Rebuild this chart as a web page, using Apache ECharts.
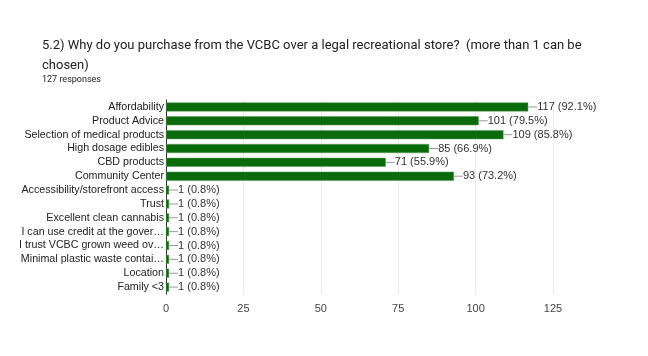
<!DOCTYPE html>
<html><head><meta charset="utf-8">
<script src="https://cdn.jsdelivr.net/npm/echarts@6/dist/echarts.min.js"></script>
<style>html,body{margin:0;padding:0;background:#fff;}#c{width:648px;height:356px;}</style>
</head><body><div id="c"></div>
<script>
const categories = ["Affordability","Product Advice","Selection of medical products","High dosage edibles","CBD products","Community Center","Accessibility/storefront access","Trust","Excellent clean cannabis","I can use credit at the gover\u2026","I trust VCBC grown weed ov\u2026","Minimal plastic waste contai\u2026","Location","Family <3"];
const values = [117,101,109,85,71,93,1,1,1,1,1,1,1,1];
const percents = ["92.1%","79.5%","85.8%","66.9%","55.9%","73.2%","0.8%","0.8%","0.8%","0.8%","0.8%","0.8%","0.8%","0.8%"];
const xTicks = [0,25,50,75,100,125];
const titleText = "5.2) Why do you purchase from the VCBC over a legal recreational store?  (more than 1 can be\nchosen)";
const subtitleText = "127 responses";

const chart = echarts.init(document.getElementById('c'));
chart.setOption({
  animation:false,
  title:[{text:titleText,left:37,top:31,textStyle:{fontFamily:'Roboto',fontSize:13,fontWeight:'normal',color:'#212121',lineHeight:20}},
         {text:subtitleText,left:37,top:70,textStyle:{fontFamily:'Roboto',fontSize:9,fontWeight:'normal',color:'#212121'}}],
  grid:{left:166,right:95,top:100,bottom:62,containLabel:false},
  xAxis:{type:'value',min:xTicks[0],max:xTicks[xTicks.length-1],interval:25,
    axisLine:{show:false},axisTick:{show:false},
    splitLine:{lineStyle:{color:'#ebebeb'}},
    axisLabel:{color:'#444',fontFamily:'Liberation Sans',fontSize:11,margin:9}},
  yAxis:{type:'category',data:categories,inverse:true,
    axisLine:{lineStyle:{color:'#333'}},axisTick:{show:false},
    axisLabel:{interval:0,color:'#222',fontFamily:'Liberation Sans',fontSize:10.7,margin:2}},
  series:[{type:'bar',data:values,barWidth:9,
    itemStyle:{color:'#0b6b0b',borderColor:'#5a9a5a',borderWidth:0.5},
    label:{show:true,position:'right',distance:0,
      formatter:(p)=>'{l|}{t|'+p.value+' ('+percents[p.dataIndex]+')}',
      rich:{l:{width:9,height:1,backgroundColor:'#999'},
            t:{color:'#333',fontFamily:'Liberation Sans',fontSize:11}}}}]
});
</script></body></html>
